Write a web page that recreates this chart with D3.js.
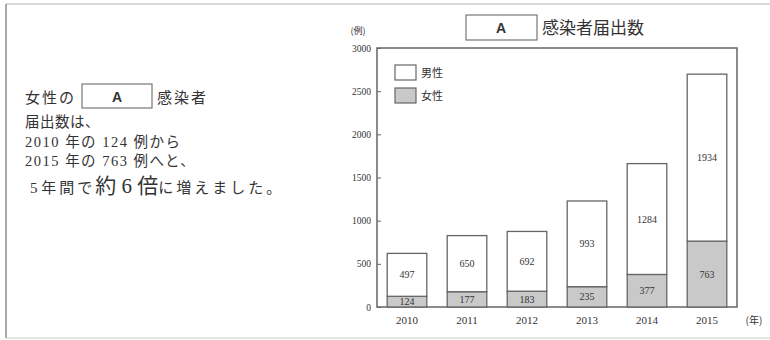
<!DOCTYPE html>
<html>
<head>
<meta charset="utf-8">
<script src="https://cdn.jsdelivr.net/npm/d3@7"></script>
<style>
body { margin: 0; background: #fff; }
text { font-family: "Liberation Serif", "Noto Sans CJK JP", serif; fill: #333; }
.jp { font-family: "Noto Sans CJK JP", sans-serif; }
</style>
</head>
<body>
<script>
var w = 770;
var h = 340;

// データ
var years = ["2010", "2011", "2012", "2013", "2014", "2015"];
var male = [497, 650, 692, 993, 1284, 1934];
var female = [124, 177, 183, 235, 377, 763];
var yTicks = [0, 500, 1000, 1500, 2000, 2500, 3000];

var svg = d3.select("body").append("svg")
    .attr("width", w)
    .attr("height", h);

// 外枠
svg.append("line").attr("x1", 6).attr("y1", 4).attr("x2", w).attr("y2", 4)
    .attr("stroke", "#ccc").attr("stroke-width", 1.5);
svg.append("line").attr("x1", 6).attr("y1", 4).attr("x2", 6).attr("y2", 338)
    .attr("stroke", "#aaa").attr("stroke-width", 2);
svg.append("line").attr("x1", 6).attr("y1", 338).attr("x2", w).attr("y2", 338)
    .attr("stroke", "#ccc").attr("stroke-width", 1);

// 左の文章
var tx = 25;
svg.append("text").attr("class", "jp").attr("x", tx).attr("y", 103).attr("font-size", 15)
    .attr("letter-spacing", 2).text("女性の");
svg.append("rect").attr("x", 82).attr("y", 84).attr("width", 70).attr("height", 24)
    .attr("fill", "#fff").attr("stroke", "#777").attr("stroke-width", 1.2);
svg.append("text").attr("x", 117).attr("y", 102).attr("text-anchor", "middle")
    .style("font-family", "Liberation Sans").attr("font-weight", "bold").attr("font-size", 14).text("A");
svg.append("text").attr("class", "jp").attr("x", 157).attr("y", 103).attr("font-size", 15)
    .attr("letter-spacing", 2).text("感染者");
svg.append("text").attr("class", "jp").attr("x", tx).attr("y", 127).attr("font-size", 14.5)
    .attr("letter-spacing", 0.5).text("届出数は、");
svg.append("text").attr("x", tx).attr("y", 147).attr("font-size", 14.5)
    .attr("letter-spacing", 1.5).text("2010 年の 124 例から");
svg.append("text").attr("x", tx).attr("y", 166).attr("font-size", 14.5)
    .attr("letter-spacing", 1.5).text("2015 年の 763 例へと、");
var last = svg.append("text").attr("x", tx + 5).attr("y", 193).attr("font-size", 15);
last.append("tspan").text("5 ");
last.append("tspan").attr("letter-spacing", 3).text("年間で");
last.append("tspan").attr("font-size", 21).text("約 6 倍");
last.append("tspan").attr("letter-spacing", 3).text("に増えました。");

// グラフ
var m = {left: 377, right: 737, top: 48, bottom: 307};

var x = d3.scaleBand().domain(years).range([m.left, m.right]).paddingInner(0.34).paddingOuter(0.17);
var y = d3.scaleLinear().domain([0, 3000]).range([m.bottom, m.top]);

// 枠
svg.append("rect").attr("x", m.left).attr("y", m.top)
    .attr("width", m.right - m.left).attr("height", m.bottom - m.top)
    .attr("fill", "none").attr("stroke", "#666").attr("stroke-width", 1.5);

// 軸
var yAxis = svg.append("g").attr("transform", "translate(" + m.left + ",0)")
    .call(d3.axisLeft(y).tickValues(yTicks).tickSize(-4).tickPadding(6).tickFormat(d3.format("d")));
yAxis.select(".domain").remove();
yAxis.selectAll("line").attr("stroke", "#666");
yAxis.selectAll("text").attr("font-size", 9.5).attr("fill", "#444");

var xAxis = svg.append("g").attr("transform", "translate(0," + m.bottom + ")")
    .call(d3.axisBottom(x).tickSize(0).tickPadding(9));
xAxis.select(".domain").remove();
xAxis.selectAll("text").attr("font-size", 11).attr("fill", "#444");

svg.append("text").attr("x", 358).attr("y", 34).attr("font-size", 9).attr("text-anchor", "middle")
    .attr("class", "jp").text("(例)");
svg.append("text").attr("x", 754).attr("y", 324).attr("font-size", 10).attr("text-anchor", "middle")
    .attr("class", "jp").text("(年)");

// 棒
var bars = svg.append("g");
for (var i = 0; i < years.length; i++) {
    var bx = x(years[i]);
    var bw = x.bandwidth();
    bars.append("rect").attr("x", bx).attr("y", y(female[i]))
        .attr("width", bw).attr("height", y(0) - y(female[i]))
        .attr("fill", "#c9c9c9").attr("stroke", "#666").attr("stroke-width", 1.3);
    bars.append("rect").attr("x", bx).attr("y", y(female[i] + male[i]))
        .attr("width", bw).attr("height", y(female[i]) - y(female[i] + male[i]))
        .attr("fill", "#fff").attr("stroke", "#666").attr("stroke-width", 1.3);
    bars.append("text").attr("x", bx + bw / 2).attr("y", (y(0) + y(female[i])) / 2 + 3.5)
        .attr("text-anchor", "middle").attr("font-size", 10).attr("fill", "#555").text(female[i]);
    bars.append("text").attr("x", bx + bw / 2).attr("y", (y(female[i]) + y(female[i] + male[i])) / 2 + 3.5)
        .attr("text-anchor", "middle").attr("font-size", 10).attr("fill", "#555").text(male[i]);
}

// 凡例
var legend = [["男性", "#fff"], ["女性", "#c9c9c9"]];
legend.forEach(function(d, k) {
    svg.append("rect").attr("x", 395).attr("y", 65 + k * 23).attr("width", 21).attr("height", 15)
        .attr("fill", d[1]).attr("stroke", "#666").attr("stroke-width", 1.2);
    svg.append("text").attr("class", "jp").attr("x", 421).attr("y", 77 + k * 23)
        .attr("font-size", 11).text(d[0]);
});

// タイトル
svg.append("rect").attr("x", 466).attr("y", 15).attr("width", 71).attr("height", 25)
    .attr("fill", "#fff").attr("stroke", "#777").attr("stroke-width", 1.2);
svg.append("text").attr("x", 501).attr("y", 33).attr("text-anchor", "middle")
    .style("font-family", "Liberation Sans").attr("font-weight", "bold").attr("font-size", 14).text("A");
svg.append("text").attr("class", "jp").attr("x", 542).attr("y", 34).attr("font-size", 17).text("感染者届出数");
</script>
</body>
</html>
